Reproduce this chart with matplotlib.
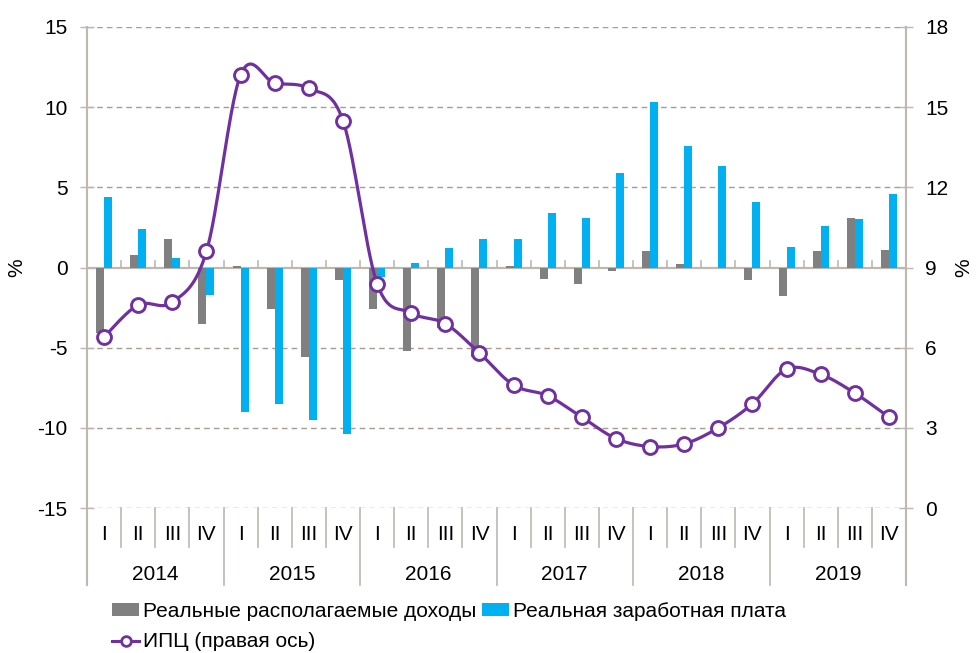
import matplotlib
matplotlib.use("Agg")
import matplotlib.pyplot as plt
import numpy as np
from matplotlib.patches import Patch
from matplotlib.lines import Line2D

plt.rcParams['font.family'] = ['Liberation Sans', 'DejaVu Sans']

years = ['2014', '2015', '2016', '2017', '2018', '2019']
quarters = ['I', 'II', 'III', 'IV']

income = [-4.1, 0.8, 1.8, -3.5,
          0.1, -2.6, -5.6, -0.8,
          -2.6, -5.2, -3.8, -5.6,
          0.1, -0.7, -1.0, -0.2,
          1.0, 0.2, 0.0, -0.8,
          -1.8, 1.0, 3.1, 1.1]
wages = [4.4, 2.4, 0.6, -1.7,
         -9.0, -8.5, -9.5, -10.4,
         -0.6, 0.3, 1.2, 1.8,
         1.8, 3.4, 3.1, 5.9,
         10.3, 7.6, 6.3, 4.1,
         1.3, 2.6, 3.0, 4.6]
cpi = [6.4, 7.6, 7.7, 9.6,
       16.2, 15.9, 15.7, 14.5,
       8.4, 7.3, 6.9, 5.8,
       4.6, 4.2, 3.4, 2.6,
       2.3, 2.4, 3.0, 3.9,
       5.2, 5.0, 4.3, 3.4]

label_income = 'Реальные располагаемые доходы'
label_wages = 'Реальная заработная плата'
label_cpi = 'ИПЦ (правая ось)'

GRAY = '#808080'
CYAN = '#00B0F0'
PURPLE = '#7030A0'
AXC = '#BFB7B0'
GRIDC = '#A89B92'
FS = 15

fig = plt.figure(figsize=(9.76, 6.53), dpi=100)
ax = fig.add_axes([87/976, 1-508/653, (906-87)/976, (508-27)/653])
ax2 = ax.twinx()

n = len(income)
x = np.arange(n)
bw = 0.235
ax.bar(x - bw/2, income, width=bw, color=GRAY, zorder=3)
ax.bar(x + bw/2, wages, width=bw, color=CYAN, zorder=3)

ax.set_xlim(-0.5, n - 0.5)
ax.set_ylim(-15, 15)
ax.set_yticks(np.arange(-15, 16, 5))
ax.set_yticklabels([str(v) for v in range(-15, 16, 5)])
ax.set_xticks([])
for s in ax.spines.values():
    s.set_visible(False)
for s in ax2.spines.values():
    s.set_visible(False)
for v in range(-15, 16, 5):
    if v != 0:
        ax.axhline(v, color=GRIDC, lw=1.0, ls=(0, (4, 3)), zorder=1)
ax.axhline(0, color=AXC, lw=1.6, zorder=2)
ax.tick_params(axis='y', direction='inout', length=10, width=1.0, color=AXC,
               labelsize=FS, pad=9)

# small ticks on zero line at category boundaries
for b in np.arange(0.5, n - 0.5, 1.0):
    ax.plot([b, b], [0, 0.38], color=AXC, lw=1.2, zorder=2)

# spines drawn manually
tr = ax.get_xaxis_transform()
ax.plot([-0.5, -0.5], [-0.160, 1.0], transform=tr, color=AXC, lw=1.5, clip_on=False, zorder=4)
ax.plot([n - 0.5, n - 0.5], [-0.160, 1.0], transform=tr, color=AXC, lw=1.5, clip_on=False, zorder=4)
for b in np.arange(0.5, n - 0.5, 1.0):
    y0 = -0.160 if int(b + 0.5) % 4 == 0 else -0.081
    ax.plot([b, b], [0, y0], transform=tr, color=AXC, lw=1.2, clip_on=False)

# category labels
for i in range(n):
    ax.text(i, -0.056, quarters[i % 4], transform=tr, ha='center', va='center',
            fontsize=FS, color='black')
for k, yr in enumerate(years):
    ax.text(4*k + 1.5, -0.138, yr, transform=tr, ha='center', va='center',
            fontsize=FS, color='black')

# CPI smooth line (Excel-style Bezier smoothing)
ax2.set_ylim(0, 18)
ax2.set_yticks(np.arange(0, 19, 3))
ax2.tick_params(axis='y', direction='inout', length=10, width=1.0, color=AXC,
                labelsize=FS, pad=9)
pts = np.column_stack([x, cpi]).astype(float)
curve = []
tt = np.linspace(0, 1, 30)
for i in range(n - 1):
    p0 = pts[max(i - 1, 0)]
    p1 = pts[i]
    p2 = pts[i + 1]
    p3 = pts[min(i + 2, n - 1)]
    c1 = p1 + (p2 - p0) / 6
    c2 = p2 - (p3 - p1) / 6
    seg = ((1 - tt)[:, None]**3 * p1 + 3*((1 - tt)**2 * tt)[:, None] * c1
           + 3*((1 - tt) * tt**2)[:, None] * c2 + (tt**3)[:, None] * p2)
    curve.append(seg)
curve = np.vstack(curve)
ax2.plot(curve[:, 0], curve[:, 1], color=PURPLE, lw=2.3, zorder=5)
ax2.plot(x, cpi, ls='none', marker='o', ms=10, mfc='white', mec=PURPLE, mew=2.1, zorder=6)

ax.set_ylabel('%', fontsize=FS)
ax.yaxis.set_label_coords(-0.0745, 0.5)
ax2.set_ylabel('%', fontsize=FS)
ax2.yaxis.set_label_coords(1.0586, 0.5)

handles = [Patch(facecolor=GRAY, edgecolor='none'),
           Line2D([0], [0], color=PURPLE, lw=2.2, marker='o', ms=7, mfc='white', mec=PURPLE, mew=2.0),
           Patch(facecolor=CYAN, edgecolor='none')]
labels = [label_income, label_cpi, label_wages]
leg = fig.legend(handles, labels, loc='upper left', bbox_to_anchor=(112/976, 1 - 602/653),
                 ncol=2, frameon=False, fontsize=FS, borderpad=0, borderaxespad=0,
                 handlelength=1.3, handleheight=0.55, handletextpad=0.2,
                 columnspacing=0.25, labelspacing=0.55)

fig.savefig('out.png', dpi=100)
